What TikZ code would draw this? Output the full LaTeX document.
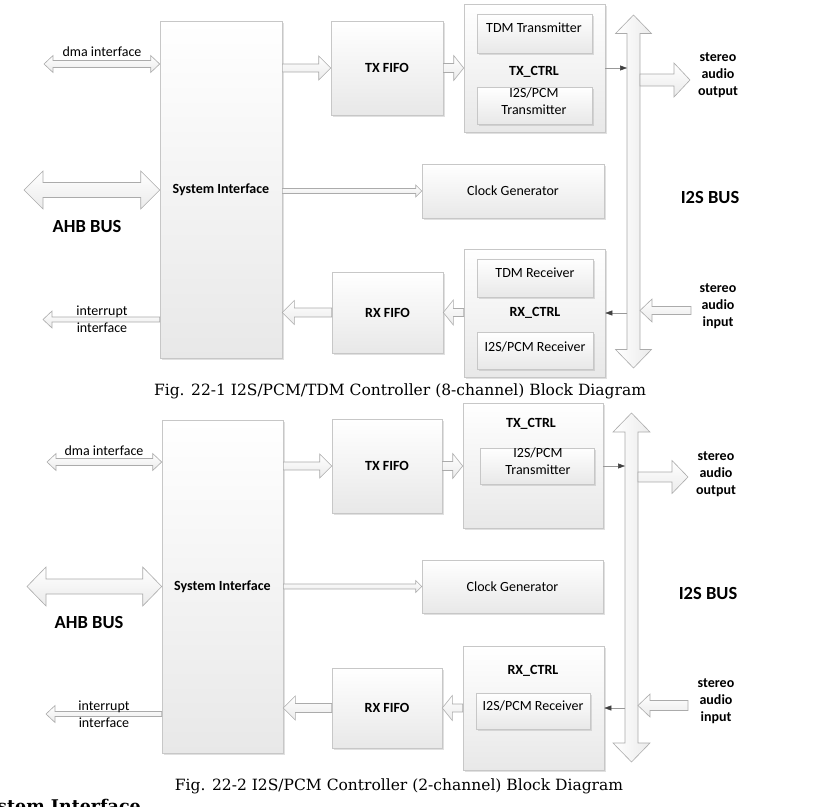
\documentclass[tikz,border=0pt]{standalone}
\usepackage{fontspec}
\setmainfont{Carlito}
\newfontfamily\capfont{DejaVu Serif}
\usetikzlibrary{calc,shadows,arrows.meta}

% hollow block arrow: start, tip, shaft half width, head half width, head length
\newcommand{\blkarrow}[5]{%
  \path[blockarrow] let \p1=(#1), \p2=(#2), \n1={sign(\x2-\x1)*#5} in
    (\x1,\y2+#3) -- ({\x2-(\n1)},\y2+#3) -- ({\x2-(\n1)},\y2+#4) -- (\x2,\y2)
    -- ({\x2-(\n1)},\y2-#4) -- ({\x2-(\n1)},\y2-#3) -- (\x1,\y2-#3) -- cycle;}
% hollow double block arrow, left tip then right tip
\newcommand{\blkdarrow}[5]{%
  \path[blockarrow] let \p1=(#1), \p2=(#2) in
    (\x1,\y1) -- (\x1+#5,\y1+#4) -- (\x1+#5,\y1+#3) -- (\x2-#5,\y1+#3)
    -- (\x2-#5,\y1+#4) -- (\x2,\y1) -- (\x2-#5,\y1-#4) -- (\x2-#5,\y1-#3)
    -- (\x1+#5,\y1-#3) -- (\x1+#5,\y1-#4) -- cycle;}
% vertical double block arrow, top tip then bottom tip
\newcommand{\busdarrow}[5]{%
  \path[busarrow] let \p1=(#1), \p2=(#2) in
    (\x1,\y1) -- (\x1+#4,\y1-#5) -- (\x1+#3,\y1-#5) -- (\x1+#3,\y2+#5)
    -- (\x1+#4,\y2+#5) -- (\x1,\y2) -- (\x1-#4,\y2+#5) -- (\x1-#3,\y2+#5)
    -- (\x1-#3,\y1-#5) -- (\x1-#4,\y1-#5) -- cycle;}

\begin{document}
\begin{tikzpicture}[x=1pt,y=-1pt,
  box/.style={draw=black!22, line width=0.6pt, top color=white, bottom color=black!9,
    inner sep=0pt, font=\fontsize{14}{17}\selectfont,
    drop shadow={shadow xshift=1.5pt, shadow yshift=-1.5pt, opacity=0.3, fill=black!40}},
  txt/.style={font=\fontsize{14}{17}\selectfont, align=center, inner sep=0pt},
  btxt/.style={txt, font=\fontsize{14}{17}\selectfont\bfseries},
  bus/.style={font=\fontsize{18.5}{22}\selectfont\bfseries, inner sep=0pt},
  blockarrow/.style={draw=black!33, line width=0.6pt, top color=white, bottom color=black!8},
  busarrow/.style={draw=black!33, line width=0.6pt, left color=white, right color=black!8},
  thinarrow/.style={draw=black!40, line width=0.5pt,
    -{Triangle[length=7pt,width=5pt,color=black!75]}},
  caption/.style={font=\capfont\fontsize{15.5}{18}\selectfont, inner sep=0pt}]
\useasboundingbox (0,0) rectangle (830,806);

% ---- Fig. 22-1 ----
\node[box, minimum width=122, minimum height=337] (si1) at (221,190) {\bfseries System Interface};
\node[box, minimum width=112, minimum height=94] (txf1) at (387,68) {\bfseries TX FIFO};
\node[box, minimum width=111, minimum height=81] (rxf1) at (387.5,312.5) {\bfseries RX FIFO};
\node[box, minimum width=141, minimum height=128] (txc1) at (534.5,68) {};
\node[box, minimum width=115, minimum height=39] (tdmt1) at (534.5,33.5) {};
\node[box, minimum width=115, minimum height=37] (i2st1) at (534.5,105.5) {};
\node[box, minimum width=182, minimum height=54] (clk1) at (513,191) {Clock Generator};
\node[box, minimum width=141, minimum height=128] (rxc1) at (534.5,313) {};
\node[box, minimum width=116, minimum height=38] (tdmr1) at (535,278) {};
\node[box, minimum width=116, minimum height=37] (i2sr1) at (535,350.5) {};
\node[txt] (tdmt1t) at (534,28) {TDM Transmitter};
\node[btxt] (txc1t) at (534,72) {TX\_CTRL};
\node[txt] (i2st1t) at (534,101) {I2S/PCM\\Transmitter};
\node[txt] (tdmr1t) at (535,273) {TDM Receiver};
\node[btxt] (rxc1t) at (535,313) {RX\_CTRL};
\node[txt] (i2sr1t) at (535,347) {I2S/PCM Receiver};

\coordinate (bus1t) at (633.5,15);
\coordinate (bus1b) at (633.5,368);
\coordinate (dma1) at (44,64);
\coordinate (ahb1) at (24,190);
\coordinate (int1) at (43,319.5);
\coordinate (out1) at (690,80);
\coordinate (in1) at (691,310.5);

\busdarrow{bus1t}{bus1b}{6.5pt}{18pt}{18.5pt}
\blkdarrow{dma1}{si1.west |- dma1}{3.5pt}{8.5pt}{9pt}
\blkdarrow{ahb1}{si1.west}{7.5pt}{19pt}{19pt}
\blkarrow{si1.west |- int1}{int1}{2.5pt}{8.5pt}{9pt}
\blkarrow{si1.east |- txf1}{txf1.west}{4pt}{12pt}{12pt}
\blkarrow{si1.east |- clk1}{clk1.west}{2.5pt}{6pt}{6pt}
\blkarrow{rxf1.west}{si1.east |- rxf1}{4.5pt}{12pt}{12pt}
\blkarrow{txf1.east}{txc1.west |- txf1}{4.5pt}{12.5pt}{10pt}
\blkarrow{rxc1.west |- rxf1}{rxf1.east}{4pt}{12.5pt}{10pt}
\blkarrow{$(bus1t |- out1)+(6.5,0)$}{out1}{6pt}{17pt}{16pt}
\blkarrow{in1}{$(bus1t |- in1)+(6.5,0)$}{4pt}{11.5pt}{12pt}
\draw[thinarrow] (txc1.east) -- ($(bus1t |- txc1.east)+(-6.5,0)$);
\draw[thinarrow] ($(bus1t |- rxc1.east)+(-6.5,0)$) -- (rxc1.east);

\node[txt] (dma1t) at (102,52) {dma interface};
\node[bus] (ahb1t) at (87,226) {AHB BUS};
\node[txt] (int1t) at (102,319.5) {interrupt\\interface};
\node[btxt] (out1t) at (718,75) {stereo\\audio\\output};
\node[bus] (i2s1t) at (710,197) {I2S BUS};
\node[btxt] (in1t) at (718,306) {stereo\\audio\\input};
\node[caption] (cap1) at (400,391) {Fig. 22-1 I2S/PCM/TDM Controller (8-channel) Block Diagram};

% ---- Fig. 22-2 ----
\node[box, minimum width=121, minimum height=333] (si2) at (222.5,586.5) {\bfseries System Interface};
\node[box, minimum width=110, minimum height=94] (txf2) at (387,466) {\bfseries TX FIFO};
\node[box, minimum width=110, minimum height=80] (rxf2) at (387,708) {\bfseries RX FIFO};
\node[box, minimum width=140, minimum height=125] (txc2) at (533,465.5) {};
\node[box, minimum width=114, minimum height=36] (i2st2) at (537,466) {};
\node[box, minimum width=181, minimum height=53] (clk2) at (512.5,586.5) {Clock Generator};
\node[box, minimum width=141, minimum height=124] (rxc2) at (533.5,708) {};
\node[box, minimum width=114, minimum height=36] (i2sr2) at (533,711) {};
\node[btxt] (txc2t) at (531,424) {TX\_CTRL};
\node[txt] (i2st2t) at (538,461) {I2S/PCM\\Transmitter};
\node[btxt] (rxc2t) at (533,671) {RX\_CTRL};
\node[txt] (i2sr2t) at (533,706) {I2S/PCM Receiver};

\coordinate (bus2t) at (631.5,413);
\coordinate (bus2b) at (631.5,762);
\coordinate (dma2) at (47,462);
\coordinate (ahb2) at (27,586.5);
\coordinate (int2) at (46,714);
\coordinate (out2) at (688,477);
\coordinate (in2) at (688,705.5);

\busdarrow{bus2t}{bus2b}{6.5pt}{18.5pt}{19pt}
\blkdarrow{dma2}{si2.west |- dma2}{3.5pt}{8.5pt}{9pt}
\blkdarrow{ahb2}{si2.west}{7.5pt}{19.5pt}{19pt}
\blkarrow{si2.west |- int2}{int2}{2.5pt}{8.5pt}{9pt}
\blkarrow{si2.east |- txf2}{txf2.west}{4pt}{12pt}{12pt}
\blkarrow{si2.east |- clk2}{clk2.west}{2.5pt}{6pt}{6pt}
\blkarrow{rxf2.west}{si2.east |- rxf2}{4.5pt}{12pt}{12pt}
\blkarrow{txf2.east}{txc2.west |- txf2}{4.5pt}{12.5pt}{10pt}
\blkarrow{rxc2.west |- rxf2}{rxf2.east}{4pt}{12.5pt}{10pt}
\blkarrow{$(bus2t |- out2)+(6.5,0)$}{out2}{5pt}{16.5pt}{16pt}
\blkarrow{in2}{$(bus2t |- in2)+(6.5,0)$}{5pt}{11.5pt}{12pt}
\draw[thinarrow] (txc2.east |- txf2) -- ($(bus2t |- txf2)+(-6.5,0)$);
\draw[thinarrow] ($(bus2t |- rxc2.east)+(-6.5,0)$) -- (rxc2.east);

\node[txt] (dma2t) at (104,451) {dma interface};
\node[bus] (ahb2t) at (89,622) {AHB BUS};
\node[txt] (int2t) at (104,714) {interrupt\\interface};
\node[btxt] (out2t) at (716,474) {stereo\\audio\\output};
\node[bus] (i2s2t) at (708,593) {I2S BUS};
\node[btxt] (in2t) at (716,701) {stereo\\audio\\input};
\node[caption] (cap2) at (399,786) {Fig. 22-2 I2S/PCM Controller (2-channel) Block Diagram};

\node[anchor=north west, inner sep=0pt, font=\capfont\bfseries\fontsize{17.5}{21}\selectfont] (cut) at (-3,799) {stem Interface};
\end{tikzpicture}
\end{document}
